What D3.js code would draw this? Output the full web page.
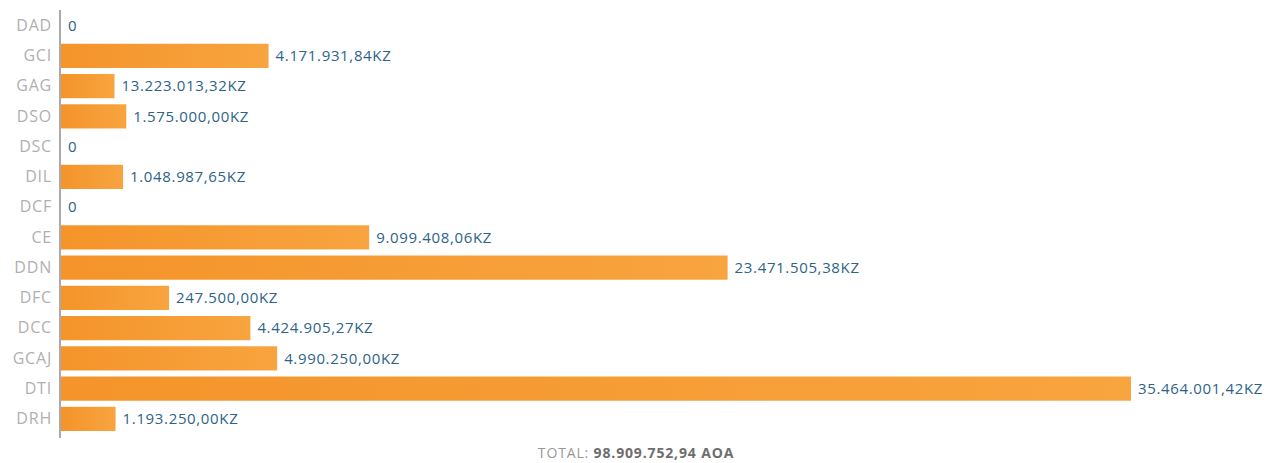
<!DOCTYPE html>
<html>
<head>
<meta charset="utf-8">
<script src="https://cdn.jsdelivr.net/npm/d3@7"></script>
<style>
  body { margin: 0; background: #fff; }
  svg { display: block; font-family: "Open Sans", sans-serif; }
</style>
</head>
<body>
<svg id="chart" width="1276" height="463"></svg>
<script>
const categories = ["DAD", "GCI", "GAG", "DSO", "DSC", "DIL", "DCF", "CE", "DDN", "DFC", "DCC", "GCAJ", "DTI", "DRH"];
// bar length as drawn (share of the longest bar, %)
const barShare = [0, 19.4, 5.0, 6.1, 0, 5.8, 0, 28.8, 62.3, 10.1, 17.7, 20.2, 100, 5.1];
const amountLabels = ["0", "4.171.931,84KZ", "13.223.013,32KZ", "1.575.000,00KZ", "0", "1.048.987,65KZ", "0",
  "9.099.408,06KZ", "23.471.505,38KZ", "247.500,00KZ", "4.424.905,27KZ", "4.990.250,00KZ", "35.464.001,42KZ", "1.193.250,00KZ"];
const totalLabel = "98.909.752,94 AOA";

const data = categories.map((c, i) => ({ cat: c, share: barShare[i], label: amountLabels[i] }));

const svg = d3.select("#chart");

const x = d3.scaleLinear().domain([0, 100]).range([61, 1131]);
const y = d3.scaleBand().domain(categories).range([10.5, 434]).paddingInner(0.2).paddingOuter(0.1);

const grad = svg.append("defs").append("linearGradient")
  .attr("id", "barGrad").attr("x1", "0%").attr("x2", "100%");
grad.append("stop").attr("offset", "0%").attr("stop-color", "#f4942a");
grad.append("stop").attr("offset", "100%").attr("stop-color", "#f8a43f");

svg.selectAll("rect.bar")
  .data(data.filter(d => d.share > 0))
  .enter()
  .append("rect")
  .attr("class", "bar")
  .attr("x", x(0))
  .attr("y", d => y(d.cat))
  .attr("width", d => x(d.share) - x(0))
  .attr("height", y.bandwidth())
  .attr("fill", "url(#barGrad)");

// category axis
const yAxis = svg.append("g")
  .attr("transform", "translate(60,0)")
  .call(d3.axisLeft(y).tickSize(0).tickPadding(8));
yAxis.select(".domain").attr("stroke", "#aaa").attr("stroke-width", 2)
  .attr("d", "M0,10V438");
yAxis.selectAll("text")
  .attr("fill", "#b0b0b0")
  .style("font-size", "16px")
  .style("letter-spacing", "0.8px")
  .style("font-family", "\"Open Sans\", sans-serif");

svg.selectAll("text.val")
  .data(data)
  .enter()
  .append("text")
  .attr("class", "val")
  .attr("x", d => x(d.share) + 7)
  .attr("y", d => y(d.cat) + y.bandwidth() / 2)
  .attr("dy", "0.35em")
  .attr("fill", "#2d6387")
  .style("font-size", "15px")
  .style("letter-spacing", "0.65px")
  .text(d => d.label);

const total = svg.append("text")
  .attr("x", 636)
  .attr("y", 458)
  .attr("text-anchor", "middle")
  .style("font-size", "14px")
  .style("letter-spacing", "0.85px");
total.append("tspan").attr("fill", "#999").text("TOTAL: ");
total.append("tspan").attr("fill", "#6e6e6e").attr("font-weight", "bold").text(totalLabel);
</script>
</body>
</html>
